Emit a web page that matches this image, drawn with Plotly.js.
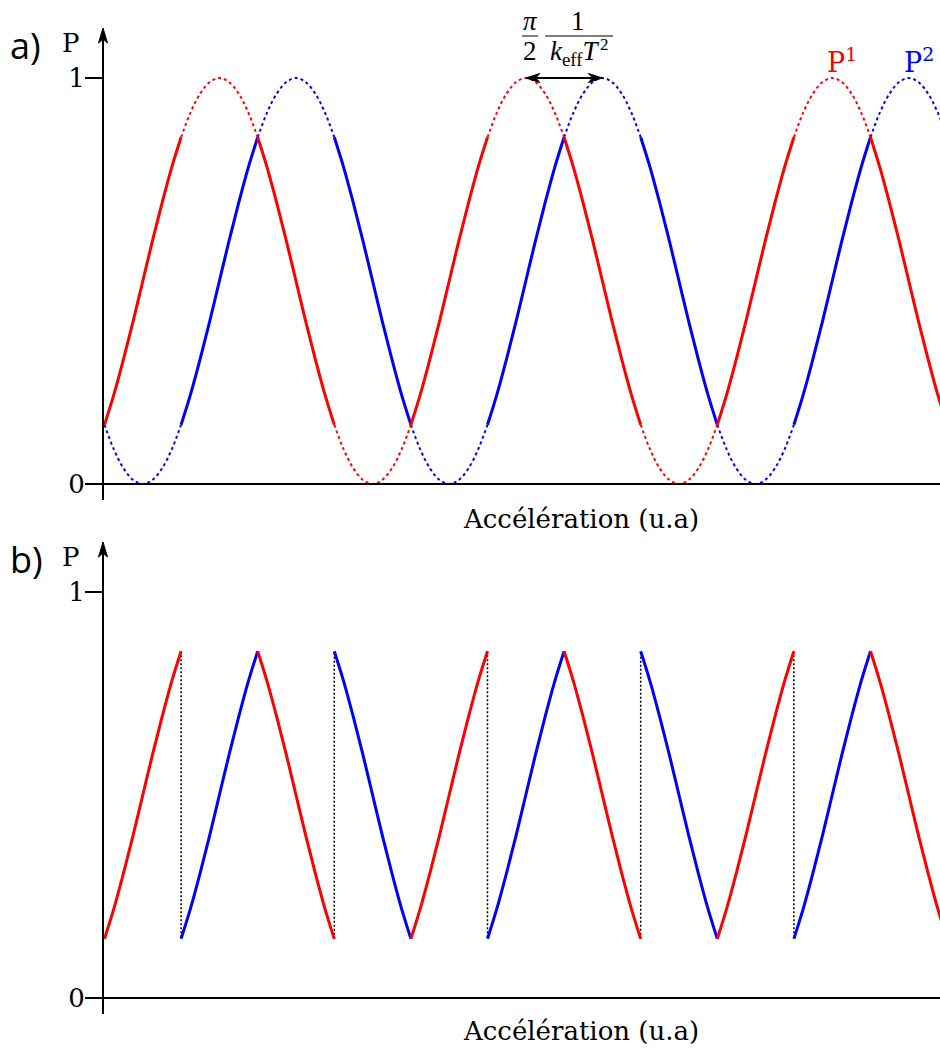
<!DOCTYPE html>
<html>
<head>
<meta charset="utf-8">
<script src="https://cdn.plot.ly/plotly-3.0.1.min.js"></script>
<style>html,body{margin:0;padding:0;background:#fff}#chart{width:940px;height:1048px}</style>
</head>
<body>
<div id="chart"></div>
<script>
// ---- data ----
const accel = [0,0.125,0.25,0.375,0.5,0.625,0.75,0.875,1,1.125,1.25,1.375,1.5,1.625,1.75,1.875,
  2,2.125,2.25,2.375,2.5,2.625,2.75,2.875,3,3.125,3.25,3.375,3.5,3.625,3.75,3.875,
  4,4.125,4.25,4.375,4.5,4.625,4.75,4.875,5,5.125,5.25,5.375,5.5,5.625,5.75,5.875,
  6,6.125,6.25,6.375,6.5,6.625,6.75,6.875,7,7.125,7.25,7.375,7.5,7.625,7.75,7.875,
  8,8.125,8.25,8.375,8.5,8.625,8.75,8.875,9,9.125,9.25,9.375,9.5,9.625,9.75,9.875,
  10,10.125,10.25,10.375,10.5,10.625,10.75,10.875,11];
const P1 = [0.146,0.222,0.309,0.402,0.5,0.598,0.691,0.778,0.854,0.916,0.962,0.990,1,0.990,0.962,0.916,
  0.854,0.778,0.691,0.598,0.5,0.402,0.309,0.222,0.146,0.084,0.038,0.010,0,0.010,0.038,0.084,
  0.146,0.222,0.309,0.402,0.5,0.598,0.691,0.778,0.854,0.916,0.962,0.990,1,0.990,0.962,0.916,
  0.854,0.778,0.691,0.598,0.5,0.402,0.309,0.222,0.146,0.084,0.038,0.010,0,0.010,0.038,0.084,
  0.146,0.222,0.309,0.402,0.5,0.598,0.691,0.778,0.854,0.916,0.962,0.990,1,0.990,0.962,0.916,
  0.854,0.778,0.691,0.598,0.5,0.402,0.309,0.222,0.146];
const P2 = [0.146,0.084,0.038,0.010,0,0.010,0.038,0.084,0.146,0.222,0.309,0.402,0.5,0.598,0.691,0.778,
  0.854,0.916,0.962,0.990,1,0.990,0.962,0.916,0.854,0.778,0.691,0.598,0.5,0.402,0.309,0.222,
  0.146,0.084,0.038,0.010,0,0.010,0.038,0.084,0.146,0.222,0.309,0.402,0.5,0.598,0.691,0.778,
  0.854,0.916,0.962,0.990,1,0.990,0.962,0.916,0.854,0.778,0.691,0.598,0.5,0.402,0.309,0.222,
  0.146,0.084,0.038,0.010,0,0.010,0.038,0.084,0.146,0.222,0.309,0.402,0.5,0.598,0.691,0.778,
  0.854,0.916,0.962,0.990,1,0.990,0.962,0.916,0.854];
const linearLow = 0.146, linearHigh = 0.854;   // working range (solid)
const jumpAccel = [1,3,5,7,9];                  // switching points in b)
const peakP1 = 5.5, peakP2 = 6.5;               // peaks marked by the arrow
const tickVals = [0,1];
const tickText = ['0','1'];

// ---- helpers ----
const W = 940, H = 1048;
const px = x => x / W;
const py = y => 1 - y / H;
const RED = '#ff0000', BLUE = '#0000ff';
const SERIF = 'DejaVu Serif';
const MATH = 'Liberation Serif';

function runs(vals) {
  const inLin = v => v >= linearLow - 1e-6 && v <= linearHigh + 1e-6;
  const out = [];
  for (let i = 0; i < vals.length - 1; i++) {
    const solid = inLin(vals[i]) && inLin(vals[i + 1]);
    const last = out[out.length - 1];
    if (last && last.solid === solid && last.i1 === i) last.i1 = i + 1;
    else out.push({solid, i0: i, i1: i + 1});
  }
  return out;
}

const traces = [];
function addCurve(vals, color, xa, ya, withDots) {
  runs(vals).forEach(r => {
    if (!r.solid && !withDots) return;
    traces.push({
      x: accel.slice(r.i0, r.i1 + 1), y: vals.slice(r.i0, r.i1 + 1),
      xaxis: xa, yaxis: ya, type: 'scatter', mode: 'lines', hoverinfo: 'skip',
      line: r.solid ? {color, width: 3, shape: 'spline'}
                    : {color, width: 2, dash: '3px,3px', shape: 'spline'},
      showlegend: false
    });
  });
}
addCurve(P2, BLUE, 'x', 'y', true);
addCurve(P1, RED, 'x', 'y', true);

// panel b jumps
const jx = [], jy = [];
jumpAccel.forEach(a => {
  const i = accel.indexOf(a);
  jx.push(a, a, null); jy.push(P1[i], P2[i], null);
});
traces.push({x: jx, y: jy, xaxis: 'x2', yaxis: 'y2', type: 'scatter', mode: 'lines',
  line: {color: '#000', width: 1.5, dash: '2px,2px'}, hoverinfo: 'skip', showlegend: false});
addCurve(P2, BLUE, 'x2', 'y2', false);
addCurve(P1, RED, 'x2', 'y2', false);

// ---- axes geometry ----
const quarterPx = 76.6, x0Px = 104.5, axisPx = 103;
const xRange = [-x0Px / quarterPx, (W - x0Px) / quarterPx];
const unitPx = 406;
const aTop = 20, aBot = 500, aZero = 484;
const bTop = 534, bBot = 1014, bZero = 998;
const yRangeA = [-(aBot - aZero) / unitPx, (aZero - aTop) / unitPx];
const yRangeB = [-(bBot - bZero) / unitPx, (bZero - bTop) / unitPx];

const xaxisBase = {range: xRange, domain: [0, 1], showgrid: false, zeroline: false,
  showline: false, showticklabels: false, ticks: '', fixedrange: true};
const yaxisBase = {showgrid: false, zeroline: false, showline: false,
  anchor: 'free', position: axisPx / W, ticks: 'outside', ticklen: 18, tickwidth: 2,
  tickcolor: '#000', tickvals: tickVals, ticktext: tickText, ticklabelstandoff: -5,
  tickfont: {family: SERIF, size: 26, color: '#000'}, fixedrange: true};

const BLACK = {color: '#000', width: 2};
const headUp = (x, y) => `M${px(x)},${py(y)} L${px(x - 4.5)},${py(y + 15)} L${px(x)},${py(y + 11)} L${px(x + 4.5)},${py(y + 15)} Z`;
const hx = 14 / quarterPx, hn = 10 / quarterPx, hw = 4.5 / unitPx;
const headH = (u, v, dir) => `M${u},${v} L${u + dir * hx},${v + hw} L${u + dir * hn},${v} L${u + dir * hx},${v - hw} Z`;

const shapes = [
  {type: 'line', xref: 'paper', yref: 'paper', x0: px(85), x1: px(940), y0: py(aZero), y1: py(aZero), line: BLACK},
  {type: 'line', xref: 'paper', yref: 'paper', x0: px(85), x1: px(940), y0: py(bZero), y1: py(bZero), line: BLACK},
  {type: 'line', xref: 'paper', yref: 'paper', x0: px(axisPx), x1: px(axisPx), y0: py(aBot), y1: py(36), line: BLACK},
  {type: 'path', xref: 'paper', yref: 'paper', path: headUp(axisPx, 28), fillcolor: '#000', line: {color: '#000', width: 1}},
  {type: 'line', xref: 'paper', yref: 'paper', x0: px(axisPx), x1: px(axisPx), y0: py(bBot), y1: py(550), line: BLACK},
  {type: 'path', xref: 'paper', yref: 'paper', path: headUp(axisPx, 542), fillcolor: '#000', line: {color: '#000', width: 1}},
  {type: 'line', xref: 'x', yref: 'y', x0: peakP1 + hn, x1: peakP2 - hn, y0: 1, y1: 1, line: BLACK},
  {type: 'path', xref: 'x', yref: 'y', path: headH(peakP1, 1, 1), fillcolor: '#000', line: {color: '#000', width: 1}},
  {type: 'path', xref: 'x', yref: 'y', path: headH(peakP2, 1, -1), fillcolor: '#000', line: {color: '#000', width: 1}},
  {type: 'line', xref: 'paper', yref: 'paper', x0: px(522), x1: px(538), y0: py(36), y1: py(36), line: {color: '#000', width: 1}},
  {type: 'line', xref: 'paper', yref: 'paper', x0: px(545), x1: px(613), y0: py(36), y1: py(36), line: {color: '#000', width: 1}}
];

const txt = (text, x, y, size, opts = {}) => Object.assign({
  text, xref: 'paper', yref: 'paper', x: px(x), y: py(y), showarrow: false,
  xanchor: 'center', yanchor: 'middle', font: {family: SERIF, size, color: '#000'}
}, opts);
const mfont = {family: MATH, size: 27, color: '#000'};

const annotations = [
  txt('a)', 8, 46, 36, {xanchor: 'left', font: {family: 'Open Sans', size: 36, color: '#000'}}),
  txt('b)', 8, 559, 36, {xanchor: 'left', font: {family: 'Open Sans', size: 36, color: '#000'}}),
  txt('P', 71, 43, 26),
  txt('P', 71, 557, 26),
  txt('Accélération (u.a)', 581, 519, 26),
  txt('Accélération (u.a)', 581, 1031, 26),
  txt('P<sup>1</sup>', 842, 60, 27, {font: {family: SERIF, size: 27, color: RED}}),
  txt('P<sup>2</sup>', 919, 60, 27, {font: {family: SERIF, size: 27, color: BLUE}}),
  txt('<i>π</i>', 530, 21, 27, {font: mfont}),
  txt('2', 530, 51, 27, {font: mfont}),
  txt('1', 578, 21, 27, {font: mfont}),
  txt('<i>k</i><sub>eff</sub><i>T</i>', 548, 53, 27, {xanchor: 'left', font: mfont}),
  txt('2', 598, 44, 17, {xanchor: 'left', font: {family: MATH, size: 17, color: '#000'}})
];

const layout = {
  width: W, height: H, margin: {l: 0, r: 0, t: 0, b: 0},
  paper_bgcolor: '#fff', plot_bgcolor: 'rgba(0,0,0,0)', showlegend: false,
  xaxis: Object.assign({}, xaxisBase, {anchor: 'y'}),
  xaxis2: Object.assign({}, xaxisBase, {anchor: 'y2'}),
  yaxis: Object.assign({}, yaxisBase, {range: yRangeA, domain: [py(aBot), py(aTop)]}),
  yaxis2: Object.assign({}, yaxisBase, {range: yRangeB, domain: [py(bBot), py(bTop)]}),
  shapes, annotations
};

Plotly.newPlot('chart', traces, layout, {staticPlot: true, displayModeBar: false});
</script>
</body>
</html>
